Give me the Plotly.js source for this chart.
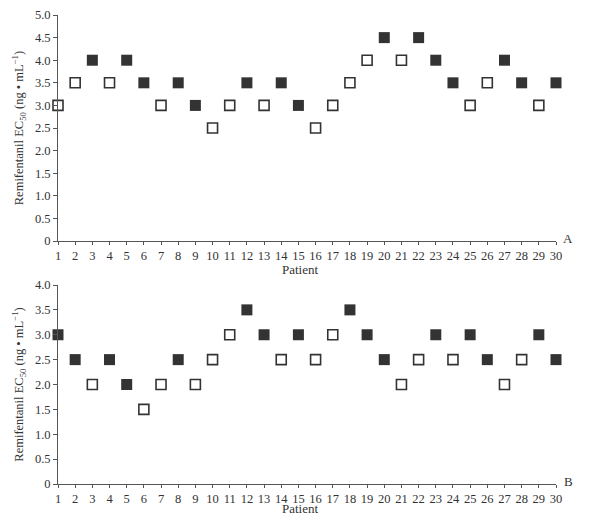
<!DOCTYPE html>
<html><head><meta charset="utf-8">
<script src="https://cdn.plot.ly/plotly-3.0.1.min.js"></script>
<style>html,body{margin:0;padding:0;background:#fff}#chart{width:593px;height:526px}</style>
</head><body><div id="chart"></div>
<script>
const patients = [1,2,3,4,5,6,7,8,9,10,11,12,13,14,15,16,17,18,19,20,21,22,23,24,25,26,27,28,29,30];
const ec50A = [3.0,3.5,4.0,3.5,4.0,3.5,3.0,3.5,3.0,2.5,3.0,3.5,3.0,3.5,3.0,2.5,3.0,3.5,4.0,4.5,4.0,4.5,4.0,3.5,3.0,3.5,4.0,3.5,3.0,3.5];
const filledA = [0,0,1,0,1,1,0,1,1,0,0,1,0,1,1,0,0,0,0,1,0,1,1,1,0,0,1,1,0,1];
const ec50B = [3.0,2.5,2.0,2.5,2.0,1.5,2.0,2.5,2.0,2.5,3.0,3.5,3.0,2.5,3.0,2.5,3.0,3.5,3.0,2.5,2.0,2.5,3.0,2.5,3.0,2.5,2.0,2.5,3.0,2.5];
const filledB = [1,1,0,1,1,0,0,1,0,0,0,1,1,0,1,0,0,1,1,1,0,0,1,0,1,1,0,0,1,1];
const yTicksA = [0,0.5,1,1.5,2,2.5,3,3.5,4,4.5,5];
const yTickTextA = ['0','0.5','1.0','1.5','2.0','2.5','3.0','3.5','4.0','4.5','5.0'];
const yTicksB = [0,0.5,1,1.5,2,2.5,3,3.5,4];
const yTickTextB = ['0','0.5','1.0','1.5','2.0','2.5','3.0','3.5','4.0'];
const yTitle = 'Remifentanil EC<sub>50</sub> (ng • mL<sup>−1</sup>)';

const ink = '#333';
function trace(vals, flags, want, xa, ya){
  const xs=[], ys=[];
  patients.forEach((p,i)=>{ if(flags[i]===want){ xs.push(p); ys.push(vals[i]); } });
  return {x:xs, y:ys, xaxis:xa, yaxis:ya, type:'scatter', mode:'markers', cliponaxis:false, showlegend:false,
    marker: want ? {symbol:'square', size:11, color:ink, line:{width:0}} :
                   {symbol:'square-open', size:10, color:ink, line:{width:1.6, color:ink}}};
}
const data = [
  trace(ec50A, filledA, 1, 'x', 'y'),
  trace(ec50A, filledA, 0, 'x', 'y'),
  trace(ec50B, filledB, 1, 'x2', 'y2'),
  trace(ec50B, filledB, 0, 'x2', 'y2')
];
const font = {family:'"Liberation Serif", "Times New Roman", serif', size:12.5, color:ink};
function xax(anchor){
  return {anchor:anchor, range:[1,30], tickmode:'array', tickvals:patients, ticktext:patients.map(String),
    showline:true, linecolor:'#555', linewidth:1, ticks:'outside', ticklen:3, tickcolor:'#555',
    showgrid:false, zeroline:false, tickfont:font, fixedrange:true, tickangle:0};
}
function yax(anchor, dom, range, tv, tt){
  return {anchor:anchor, domain:dom, range:range, tickmode:'array', tickvals:tv, ticktext:tt,
    showline:true, linecolor:'#555', linewidth:1, ticks:'outside', ticklen:4, tickcolor:'#555',
    showgrid:false, zeroline:false, tickfont:font,
    title:{text:yTitle, font:{family:font.family, size:12.5, color:ink}, standoff:8}};
}
const layout = {
  width:593, height:526,
  margin:{l:58, r:37, t:15, b:42},
  paper_bgcolor:'#fff', plot_bgcolor:'#fff',
  font:font,
  xaxis: xax('y'),
  yaxis: yax('x', [0.518,1], [0,5], yTicksA, yTickTextA),
  xaxis2: xax('y2'),
  yaxis2: yax('x2', [0,0.4243], [0,4], yTicksB, yTickTextB),
  annotations:[
    {text:'A', xref:'paper', yref:'y', x:1.038, y:0, yshift:3, showarrow:false, font:{family:font.family, size:13, color:ink}},
    {text:'B', xref:'paper', yref:'y2', x:1.038, y:0, yshift:3, showarrow:false, font:{family:font.family, size:13, color:ink}},
    {text:'Patient', xref:'paper', yref:'paper', x:0.486, y:0.457, showarrow:false, font:{family:font.family, size:13, color:ink}},
    {text:'Patient', xref:'paper', yref:'paper', x:0.486, y:-0.073, showarrow:false, font:{family:font.family, size:13, color:ink}}
  ]
};
Plotly.newPlot('chart', data, layout, {staticPlot:true, displayModeBar:false});
</script></body></html>
